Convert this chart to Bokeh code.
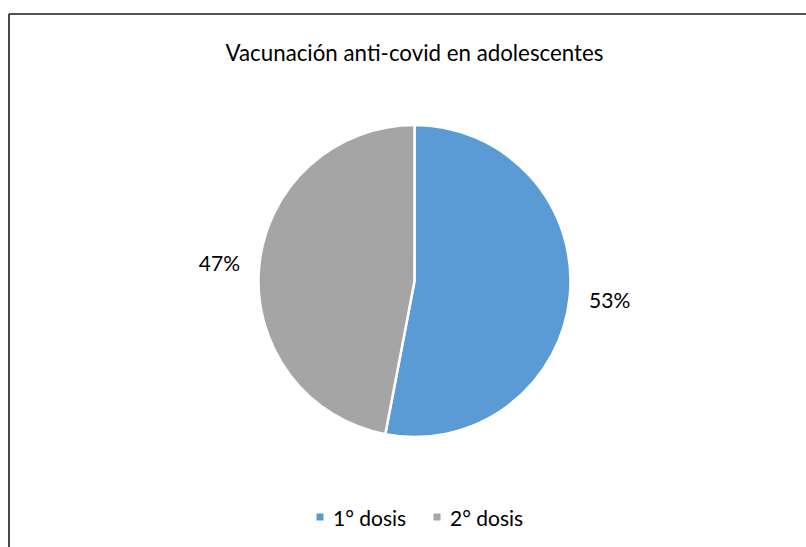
import math
from bokeh.plotting import figure
from bokeh.models import Range1d, ColumnDataSource
from bokeh.core.properties import value
from bokeh.embed import file_html
from bokeh.resources import INLINE

# ---- data ----
title = "Vacunación anti-covid en adolescentes"
categories = ["1° dosis", "2° dosis"]
shares = [53, 47]
colors = ["#5B9BD5", "#A5A5A5"]

# ---- layout (pixel space) ----
W, H = 806, 547
FONT = "Lato"
cx, cy = 414, H - 280.5
radius = 156
label_r = 196

p = figure(width=W, height=H, x_range=Range1d(0, W), y_range=Range1d(0, H),
           output_backend="svg", toolbar_location=None, min_border=0)
p.axis.visible = False
p.grid.visible = False
p.outline_line_color = None
p.background_fill_color = "white"
p.border_fill_color = "white"

# chart border (top and left edges visible)
p.segment(x0=[8.5, 8.5], y0=[H - 13.5, H - 13.5], x1=[8.5, W + 2], y1=[-2, H - 13.5],
          line_color="#1a1a1a", line_width=1.6)

total = sum(shares)
starts, ends, lx, ly, ltxt = [], [], [], [], []
cum = 0.0
for s in shares:
    a0 = math.pi / 2 - 2 * math.pi * (cum + s) / total
    a1 = math.pi / 2 - 2 * math.pi * cum / total
    starts.append(a0)
    ends.append(a1)
    mid = (a0 + a1) / 2
    lx.append(cx + label_r * math.cos(mid))
    ly.append(cy + label_r * math.sin(mid))
    ltxt.append(f"{round(100 * s / total)}%")
    cum += s

src = ColumnDataSource(dict(start=starts, end=ends, color=colors))
p.wedge(x=cx, y=cy, radius=radius, start_angle="start", end_angle="end",
        fill_color="color", line_color="white", line_width=2.5, source=src)

p.text(x=lx, y=ly, text=ltxt, text_font=value(FONT), text_font_size="21px",
       text_align="center", text_baseline="middle", text_color="#000000")

# title
p.text(x=[414], y=[H - 52], text=[title], text_font=value(FONT), text_font_size="22.3px",
       text_align="center", text_baseline="middle", text_color="#000000")

# legend
leg_x = [319.5, 436.5]
leg_y = H - 516.5
p.scatter(x=leg_x, y=[leg_y] * len(categories), marker="square", size=7,
          fill_color=colors, line_color=None)
p.text(x=[x + 13 for x in leg_x], y=[leg_y] * len(categories), text=categories,
       text_font=value(FONT), text_font_size="21px", text_align="left",
       text_baseline="middle", text_color="#000000")

open("out.html", "w").write(file_html(p, INLINE))
